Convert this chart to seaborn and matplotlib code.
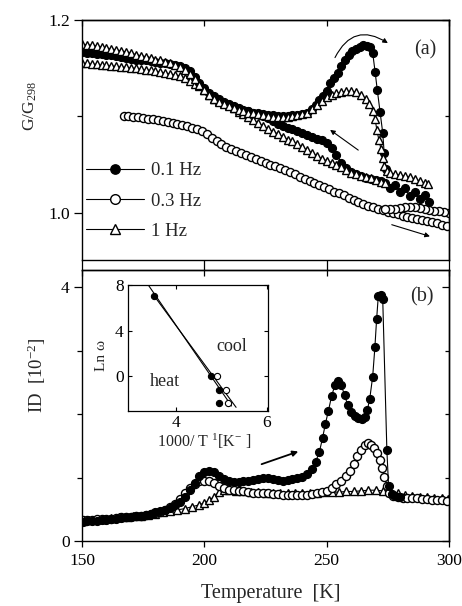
import matplotlib
matplotlib.use("Agg")
import matplotlib.pyplot as plt
import seaborn as sns


# ---- values ----
# panel (a): normalised modulus G/G298 vs temperature
FILL_A_HEAT_T = [
    150, 152, 154, 156, 158, 160, 162, 164, 166, 168,
    170, 172, 174, 176, 178, 180, 182, 184, 186, 188,
    190, 192, 194, 196, 198, 200, 202, 204, 206, 208,
    210, 212, 214, 216, 218, 220, 222, 224, 226, 228,
    230, 232, 234, 236, 238, 240, 242, 244, 245.5, 247,
    248.5, 250, 251.4, 253, 254.5, 256, 257.5, 259, 260.5, 262,
    263.5, 265, 266.5, 267.8, 268.8, 269.8, 270.7, 271.8, 272.9, 273.5,
    274.2,
]
FILL_A_HEAT_G = [
    1.167, 1.166, 1.166, 1.165, 1.165, 1.164, 1.164, 1.163, 1.162, 1.161,
    1.160, 1.159, 1.158, 1.158, 1.157, 1.156, 1.155, 1.155, 1.154, 1.153,
    1.152, 1.150, 1.147, 1.141, 1.135, 1.129, 1.124, 1.121, 1.118, 1.115,
    1.113, 1.111, 1.109, 1.107, 1.106, 1.104, 1.103, 1.102, 1.101, 1.101,
    1.100, 1.100, 1.100, 1.101, 1.101, 1.102, 1.104, 1.108, 1.112, 1.117,
    1.121, 1.126, 1.135, 1.140, 1.145, 1.152, 1.158, 1.164, 1.168, 1.170,
    1.172, 1.174, 1.173, 1.172, 1.166, 1.146, 1.127, 1.105, 1.083, 1.062,
    1.045,
]
FILL_A_COOL_T = [
    292, 290, 288, 286, 284, 282, 280, 278, 276, 274,
    272, 270, 268, 266, 264, 262, 260, 258, 256, 254,
    252, 250, 248, 246, 244, 242, 240, 238, 236, 234,
    232, 230, 228, 226, 224, 222, 220, 218,
]
FILL_A_COOL_G = [
    1.011, 1.018, 1.014, 1.022, 1.017, 1.026, 1.022, 1.029, 1.026, 1.031,
    1.033, 1.034, 1.035, 1.036, 1.038, 1.040, 1.042, 1.046, 1.052, 1.060,
    1.067, 1.072, 1.075, 1.077, 1.079, 1.081, 1.083, 1.085, 1.087, 1.088,
    1.090, 1.092, 1.095, 1.098, 1.100, 1.102, 1.104, 1.106,
]
TRI_A_HEAT_T = [
    150, 152, 154, 156, 158, 160, 162, 164, 166, 168,
    170, 172, 174, 176, 178, 180, 182, 184, 186, 188,
    190, 192, 194, 196, 198, 200, 202, 204, 206, 208,
    210, 212, 214, 216, 218, 220, 222, 224, 226, 228,
    230, 232, 234, 236, 238, 240, 242, 244, 246, 248,
    250, 252, 254, 256, 258, 260, 262, 264, 266, 267.5,
    268.8, 269.8, 270.5, 271.3, 272.2, 272.9, 273.6, 274.5, 276, 278,
    280, 282, 284, 286, 288, 290, 291.5,
]
TRI_A_HEAT_G = [
    1.175, 1.174, 1.174, 1.173, 1.172, 1.171, 1.170, 1.169, 1.168, 1.167,
    1.166, 1.164, 1.163, 1.162, 1.161, 1.159, 1.158, 1.156, 1.155, 1.153,
    1.151, 1.148, 1.144, 1.139, 1.133, 1.127, 1.122, 1.118, 1.115, 1.113,
    1.111, 1.109, 1.107, 1.106, 1.104, 1.103, 1.102, 1.101, 1.100, 1.099,
    1.099, 1.099, 1.099, 1.100, 1.101, 1.102, 1.104, 1.108, 1.112, 1.116,
    1.120, 1.122, 1.124, 1.125, 1.126, 1.126, 1.125, 1.122, 1.118, 1.113,
    1.106, 1.097, 1.086, 1.076, 1.066, 1.057, 1.048, 1.043, 1.041, 1.040,
    1.039, 1.038, 1.037, 1.035, 1.033, 1.031, 1.030,
]
TRI_A_COOL_T = [
    150, 152, 154, 156, 158, 160, 162, 164, 166, 168,
    170, 172, 174, 176, 178, 180, 182, 184, 186, 188,
    190, 192, 194, 196, 198, 200, 202, 204, 206, 208,
    210, 212, 214, 216, 218, 220, 222, 224, 226, 228,
    230, 232, 234, 236, 238, 240, 242, 244, 246, 248,
    250, 252, 254, 256, 258, 260, 262, 264, 266, 268,
    270, 272, 274,
]
TRI_A_COOL_G = [
    1.155, 1.155, 1.154, 1.154, 1.153, 1.153, 1.152, 1.152, 1.151, 1.151,
    1.150, 1.150, 1.149, 1.148, 1.148, 1.147, 1.146, 1.145, 1.144, 1.143,
    1.142, 1.140, 1.137, 1.134, 1.131, 1.127, 1.122, 1.118, 1.116, 1.114,
    1.112, 1.109, 1.105, 1.102, 1.099, 1.096, 1.093, 1.090, 1.087, 1.084,
    1.082, 1.079, 1.076, 1.074, 1.071, 1.068, 1.065, 1.062, 1.059, 1.056,
    1.054, 1.052, 1.050, 1.047, 1.044, 1.041, 1.040, 1.038, 1.037, 1.036,
    1.034, 1.032, 1.031,
]
OPEN_A_HEAT_T = [
    167, 169, 171, 173, 175, 177, 179, 181, 183, 185,
    187, 189, 191, 193, 195, 197, 199, 201, 203, 205,
    207, 209, 211, 213, 215, 217, 219, 221, 223, 225,
    227, 229, 231, 233, 235, 237, 239, 241, 243, 245,
    247, 249, 251, 253, 255, 257, 259, 261, 263, 265,
    267, 269, 271, 273, 275, 277, 279, 281, 283, 285,
    287, 289, 291, 293, 295, 297, 299,
]
OPEN_A_HEAT_G = [
    1.100, 1.100, 1.099, 1.099, 1.098, 1.097, 1.097, 1.096, 1.095, 1.094,
    1.093, 1.092, 1.091, 1.090, 1.088, 1.087, 1.085, 1.082, 1.078, 1.074,
    1.071, 1.068, 1.066, 1.064, 1.062, 1.060, 1.058, 1.056, 1.054, 1.052,
    1.050, 1.048, 1.046, 1.044, 1.042, 1.040, 1.037, 1.035, 1.033, 1.031,
    1.029, 1.027, 1.025, 1.022, 1.020, 1.018, 1.015, 1.013, 1.011, 1.009,
    1.007, 1.006, 1.004, 1.003, 1.001, 1.000, 0.999, 0.997, 0.996, 0.995,
    0.993, 0.992, 0.991, 0.990, 0.989, 0.987, 0.986,
]
OPEN_A_COOL_T = [300, 298, 296, 294, 292, 290, 288, 286, 284, 282, 280, 278, 276, 274]
OPEN_A_COOL_G = [1.000, 1.001, 1.002, 1.002, 1.003, 1.004, 1.005, 1.006, 1.006, 1.006,
                 1.005, 1.004, 1.004, 1.004]

# panel (b): internal dissipation ID [1e-2] vs temperature
FILL_B_T = [
    150.5, 152, 154, 156, 158, 160, 162, 164, 166, 168,
    170, 172, 174, 176, 178, 180, 182, 184, 186, 188,
    190, 192, 194, 196, 198, 200, 202, 204, 206, 208,
    210, 212, 214, 216, 218, 220, 222, 224, 226, 228,
    230, 232, 234, 236, 238, 240, 242, 244, 245.5, 247,
    248.3, 249.5, 250.7, 252, 253.3, 254.6, 256, 257.3, 258.6, 260,
    261.5, 263, 264.4, 265.6, 266.6, 267.6, 268.8, 269.7, 270.4, 271.1,
    272, 272.9, 274.6, 275.3, 276.5, 278, 280,
]
FILL_B_ID = [
    0.30, 0.31, 0.31, 0.32, 0.33, 0.33, 0.34, 0.35, 0.36, 0.37,
    0.38, 0.39, 0.40, 0.41, 0.43, 0.45, 0.47, 0.49, 0.52, 0.56,
    0.62, 0.70, 0.80, 0.92, 1.03, 1.09, 1.11, 1.08, 1.02, 0.97,
    0.94, 0.93, 0.93, 0.94, 0.95, 0.96, 0.98, 1.00, 1.00, 0.98,
    0.96, 0.95, 0.96, 0.97, 0.99, 1.01, 1.06, 1.13, 1.25, 1.40,
    1.62, 1.85, 2.05, 2.28, 2.45, 2.52, 2.45, 2.30, 2.14, 2.03,
    1.97, 1.94, 1.92, 1.96, 2.06, 2.24, 2.59, 3.05, 3.49, 3.86,
    3.87, 3.82, 1.43, 0.86, 0.74, 0.71, 0.70,
]
OPEN_B_T = [
    150.5, 152, 154, 156, 158, 160, 162, 164, 166, 168,
    170, 172, 174, 176, 178, 180, 182, 184, 186, 188,
    190, 192, 194, 196, 198, 200, 202, 204, 206, 208,
    210, 212, 214, 216, 218, 220, 222, 224, 226, 228,
    230, 232, 234, 236, 238, 240, 242, 244, 246, 248,
    250, 252, 254, 256, 258, 259.5, 261, 262.5, 264, 265.5,
    267, 268.3, 269.5, 270.6, 271.6, 272.7, 273.6, 274.6, 275.6, 277,
    279, 281, 283, 285, 287, 289, 291, 293, 295, 297,
    299,
]
OPEN_B_ID = [
    0.33, 0.33, 0.33, 0.34, 0.34, 0.35, 0.35, 0.36, 0.37, 0.37,
    0.38, 0.39, 0.40, 0.41, 0.42, 0.44, 0.46, 0.49, 0.53, 0.58,
    0.66, 0.76, 0.84, 0.90, 0.94, 0.95, 0.95, 0.92, 0.87, 0.83,
    0.81, 0.80, 0.79, 0.78, 0.77, 0.76, 0.76, 0.75, 0.75, 0.74,
    0.74, 0.73, 0.73, 0.73, 0.73, 0.73, 0.73, 0.74, 0.75, 0.77,
    0.79, 0.84, 0.89, 0.95, 1.03, 1.11, 1.22, 1.34, 1.44, 1.51,
    1.55, 1.52, 1.46, 1.38, 1.28, 1.15, 1.01, 0.87, 0.76, 0.71,
    0.69, 0.68, 0.68, 0.67, 0.67, 0.66, 0.66, 0.65, 0.64, 0.64,
    0.63,
]
TRI_B_T = [
    150.5, 153, 156, 159, 162, 165, 168, 171, 174, 177,
    180, 183, 186, 189, 192, 195, 198, 200, 202, 204,
    206, 208, 210, 213, 216, 219, 222, 225, 228, 231,
    234, 237, 240, 243, 246, 249, 252, 255, 258, 261,
    264, 267, 270, 273, 276, 279, 282, 285, 288, 291,
    294, 297, 299.5,
]
TRI_B_ID = [
    0.32, 0.33, 0.34, 0.35, 0.36, 0.37, 0.38, 0.39, 0.40, 0.41,
    0.43, 0.45, 0.47, 0.49, 0.51, 0.54, 0.57, 0.60, 0.64, 0.70,
    0.77, 0.80, 0.80, 0.79, 0.78, 0.77, 0.77, 0.76, 0.76, 0.76,
    0.76, 0.76, 0.76, 0.76, 0.76, 0.77, 0.77, 0.77, 0.78, 0.78,
    0.79, 0.80, 0.80, 0.79, 0.77, 0.75, 0.73, 0.71, 0.70, 0.69,
    0.68, 0.67, 0.66,
]

# inset: Arrhenius plot, ln(omega) vs 1000/T
INSET_HEAT_X = [3.52, 4.77, 4.94, 4.95]
INSET_HEAT_Y = [7.04, 0.0, -1.22, -2.32]
INSET_COOL_X = [4.91, 5.10, 5.15]
INSET_COOL_Y = [0.0, -1.22, -2.32]
HEAT_FIT_X = [3.39, 5.22]
HEAT_FIT_Y = [8.0, -2.6]
COOL_FIT_X = [3.52, 5.32]
COOL_FIT_Y = [7.04, -2.72]

FREQ_LABELS = ["0.1 Hz", "0.3 Hz", "1 Hz"]


def draw_branch(ax, temps, values, face, marker, size, label=None):
    sns.lineplot(
        x=temps, y=values, sort=False, estimator=None, ax=ax, legend=False,
        color="black", linewidth=0.8, marker=marker, markersize=size,
        markerfacecolor=face, markeredgecolor="black", markeredgewidth=1.0,
        label=label,
    )


def arrow(ax, start, end, lw=0.8, rad=0.0, scale=7):
    ax.annotate(
        "", xy=end, xytext=start,
        arrowprops=dict(arrowstyle="-|>", color="black", lw=lw, shrinkA=0, shrinkB=0,
                        mutation_scale=scale, connectionstyle=f"arc3,rad={rad}"),
    )


def frame_ticks(ax, xmajor, ymajor, yminor, bottom_dir, top_len, label_bottom):
    ax.set_xticks(xmajor)
    ax.set_yticks(ymajor)
    ax.set_yticks(yminor, minor=True)
    ax.tick_params(axis="y", which="major", direction="out", length=5.8, width=0.9,
                   left=True, right=False, labelsize=12.5, pad=3)
    ax.tick_params(axis="y", which="minor", direction="out", length=3.6, width=0.9,
                   left=True, right=False)
    ax.tick_params(axis="x", which="major", direction=bottom_dir, length=4.5 if label_bottom else 8.2,
                   width=0.9, bottom=True, top=False, labelbottom=label_bottom,
                   labelsize=12.5, pad=4)
    ax.tick_params(axis="x", which="minor", bottom=False, top=False)

    right = ax.secondary_yaxis("right")
    right.set_yticks(ymajor)
    right.set_yticks(yminor, minor=True)
    right.tick_params(which="major", direction="in", length=5, width=0.9, labelright=False)
    right.tick_params(which="minor", direction="in", length=3, width=0.9)
    right.spines["right"].set_linewidth(1.0)

    top = ax.secondary_xaxis("top")
    top.set_xticks(xmajor)
    top.tick_params(which="major", direction="in", length=top_len, width=0.9, labeltop=False)
    top.tick_params(which="minor", top=False)
    top.spines["top"].set_linewidth(1.0)

    for spine in ax.spines.values():
        spine.set_linewidth(1.0)
        spine.set_color("black")


def main() -> None:
    sns.set_theme(style="ticks")
    plt.rcParams["font.family"] = ["Liberation Serif", "DejaVu Serif"]
    plt.rcParams["mathtext.fontset"] = "custom"
    plt.rcParams["mathtext.rm"] = "Liberation Serif"
    plt.rcParams["mathtext.it"] = "Liberation Serif:italic"
    plt.rcParams["mathtext.default"] = "regular"
    plt.rcParams["axes.edgecolor"] = "black"
    plt.rcParams["xtick.color"] = "black"
    plt.rcParams["ytick.color"] = "black"

    fig = plt.figure(figsize=(4.62, 6.06), dpi=100)
    ax_a = fig.add_axes([0.1775, 0.571, 0.7944, 0.396])
    ax_b = fig.add_axes([0.1775, 0.1073, 0.7944, 0.4472])

    # ---- panel (a)
    draw_branch(ax_a, OPEN_A_HEAT_T, OPEN_A_HEAT_G, "white", "o", 5.8, FREQ_LABELS[1])
    draw_branch(ax_a, OPEN_A_COOL_T, OPEN_A_COOL_G, "white", "o", 5.8)
    draw_branch(ax_a, FILL_A_COOL_T, FILL_A_COOL_G, "black", "o", 5.6)
    draw_branch(ax_a, TRI_A_COOL_T, TRI_A_COOL_G, "white", "^", 6.3)
    draw_branch(ax_a, FILL_A_HEAT_T, FILL_A_HEAT_G, "black", "o", 5.6, FREQ_LABELS[0])
    draw_branch(ax_a, TRI_A_HEAT_T, TRI_A_HEAT_G, "white", "^", 6.3, FREQ_LABELS[2])

    ax_a.set_xlim(150, 300)
    ax_a.set_ylim(0.951, 1.2)
    frame_ticks(ax_a, [150, 200, 250, 300], [1.0, 1.2], [1.1], "out", 4.5, False)
    ax_a.set_yticklabels(["1.0", "1.2"])
    ax_a.set_xlabel("")
    ax_a.set_ylabel("G/G$_{298}$", fontsize=12.5, va="center")
    ax_a.yaxis.set_label_coords(-0.142, 0.64)
    ax_a.text(290.2, 1.169, "(a)", fontsize=14.5, ha="center", va="center")

    arrow(ax_a, (253.4, 1.161), (275.0, 1.176), rad=-0.55)
    arrow(ax_a, (262.9, 1.065), (251.4, 1.086))
    arrow(ax_a, (276.6, 0.9876), (292.2, 0.9755))

    handles, labels = ax_a.get_legend_handles_labels()
    order = [labels.index(name) for name in FREQ_LABELS]
    ax_a.legend(
        [handles[i] for i in order], [labels[i] for i in order],
        loc="center left", bbox_to_anchor=(0.011, 0.246), frameon=False,
        fontsize=13.5, handlelength=3.1, handletextpad=0.35, labelspacing=0.7,
        borderaxespad=0, borderpad=0, markerscale=1.2,
    )

    # ---- panel (b)
    draw_branch(ax_b, TRI_B_T, TRI_B_ID, "white", "^", 6.3)
    draw_branch(ax_b, OPEN_B_T, OPEN_B_ID, "white", "o", 5.8)
    draw_branch(ax_b, FILL_B_T, FILL_B_ID, "black", "o", 5.6)

    ax_b.set_xlim(150, 300)
    ax_b.set_ylim(0, 4.27)
    frame_ticks(ax_b, [150, 200, 250, 300], [0, 4], [1, 2, 3], "out", 4, True)
    ax_b.set_xticklabels(["150", "200", "250", "300"])
    ax_b.set_yticklabels(["0", "4"])
    ax_b.set_xlabel("Temperature  [K]", fontsize=14.5, va="center")
    ax_b.xaxis.set_label_coords(0.515, -0.192)
    ax_b.set_ylabel("ID  [10$^{-2}$]", fontsize=13.5, va="center")
    ax_b.yaxis.set_label_coords(-0.123, 0.613)
    ax_b.text(288.8, 3.85, "(b)", fontsize=14.5, ha="center", va="center")
    arrow(ax_b, (223.4, 1.21), (238.4, 1.41), lw=1.3, scale=8)

    # ---- inset
    ax_in = fig.add_axes([0.277, 0.3218, 0.303, 0.208])
    ax_in.set_facecolor("white")
    sns.lineplot(x=HEAT_FIT_X, y=HEAT_FIT_Y, ax=ax_in, color="black", linewidth=0.8)
    sns.lineplot(x=COOL_FIT_X, y=COOL_FIT_Y, ax=ax_in, color="black", linewidth=0.8)
    sns.scatterplot(x=INSET_COOL_X, y=INSET_COOL_Y, ax=ax_in, marker="o", s=20,
                    color="white", edgecolor="black", linewidth=0.8, zorder=3)
    sns.scatterplot(x=INSET_HEAT_X, y=INSET_HEAT_Y, ax=ax_in, marker="o", s=20,
                    color="black", edgecolor="black", linewidth=0.8, zorder=3)
    ax_in.set_xlim(2.945, 6.02)
    ax_in.set_ylim(-3.04, 8.0)
    ax_in.set_xticks([4, 6])
    ax_in.set_yticks([0, 4, 8])
    ax_in.tick_params(direction="in", length=3, width=0.8, top=True, right=True,
                      labelsize=12.5, pad=3)
    for spine in ax_in.spines.values():
        spine.set_linewidth(0.9)
        spine.set_color("black")
    ax_in.set_ylabel("Ln ω", fontsize=11, va="center")
    ax_in.yaxis.set_label_coords(-0.19, 0.438)
    ax_in.set_xlabel("1000/ T $^{1}$[K$^{-}$ ]", fontsize=11.5, va="center")
    ax_in.xaxis.set_label_coords(0.547, -0.244)
    ax_in.text(3.76, -0.5, "heat", fontsize=13, ha="center", va="center")
    ax_in.text(5.215, 2.63, "cool", fontsize=13, ha="center", va="center")

    fig.savefig("out.png", dpi=100)
    plt.close(fig)


if __name__ == "__main__":
    main()
